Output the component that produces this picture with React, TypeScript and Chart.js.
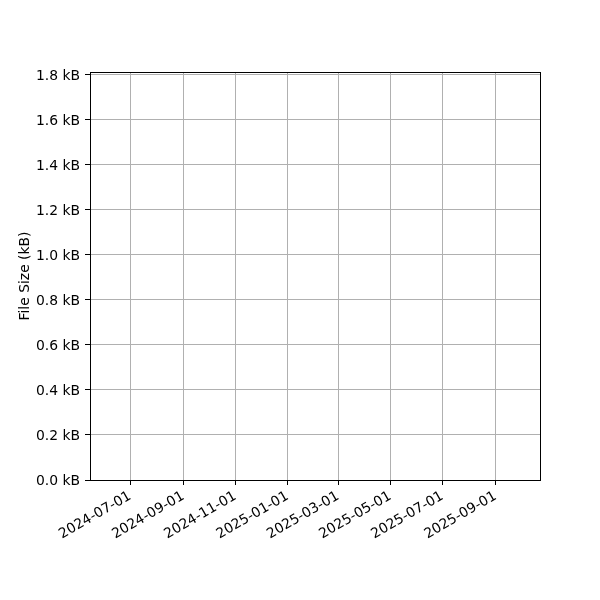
import React, { useEffect, useRef } from 'react';
import { Chart, registerables } from 'chart.js';

Chart.register(...registerables);

// Data: the reference chart has no points plotted, only the axes.
const sampleDates: string[] = [];
const fileSizeKB: number[] = [];

// Axis ticks
const xTickDates = [
    '2024-07-01', '2024-09-01', '2024-11-01', '2025-01-01',
    '2025-03-01', '2025-05-01', '2025-07-01', '2025-09-01',
];
const xRange = ['2024-05-15', '2025-10-23'];
const yTickValues = [0, 0.2, 0.4, 0.6, 0.8, 1.0, 1.2, 1.4, 1.6, 1.8];
const yMax = 1.813;

const FONT = { family: 'DejaVu Sans', size: 13.9 };
const GRID = '#b0b0b0';

const toMs = (d: string) => Date.parse(d + 'T00:00:00Z');
const fmtDate = (ms: number) => new Date(ms).toISOString().slice(0, 10);

// matplotlib draws a full frame around the axes
const framePlugin = {
    id: 'frame',
    afterDraw(chart: Chart) {
        const { ctx, chartArea } = chart;
        ctx.save();
        ctx.strokeStyle = '#000';
        ctx.lineWidth = 1;
        ctx.strokeRect(
            Math.round(chartArea.left) + 0.5,
            Math.round(chartArea.top) + 0.5,
            Math.round(chartArea.right - chartArea.left),
            Math.round(chartArea.bottom - chartArea.top)
        );
        ctx.restore();
    },
};

const App: React.FC = () => {
    const canvasRef = useRef<HTMLCanvasElement>(null);
    const chartRef = useRef<Chart | null>(null);

    useEffect(() => {
        document.body.style.margin = '0';
        if (!canvasRef.current) return;
        if (chartRef.current) chartRef.current.destroy();

        chartRef.current = new Chart(canvasRef.current, {
            type: 'line',
            data: {
                datasets: [
                    {
                        label: 'File Size',
                        data: sampleDates.map((d, i) => ({ x: toMs(d), y: fileSizeKB[i] })),
                        borderColor: '#1f77b4',
                        backgroundColor: '#1f77b4',
                        borderWidth: 1.5,
                        pointRadius: 0,
                    },
                ],
            },
            options: {
                responsive: false,
                animation: false,
                layout: { padding: { top: 72, right: 60, bottom: 0, left: 0 } },
                plugins: {
                    legend: { display: false },
                    tooltip: { enabled: false },
                },
                scales: {
                    x: {
                        type: 'linear',
                        min: toMs(xRange[0]),
                        max: toMs(xRange[1]),
                        afterBuildTicks: (axis: any) => {
                            axis.ticks = xTickDates.map((d) => ({ value: toMs(d) }));
                        },
                        afterFit: (axis: any) => {
                            axis.height = 120;
                        },
                        ticks: {
                            autoSkip: false,
                            minRotation: 30,
                            maxRotation: 30,
                            padding: 3,
                            color: '#000',
                            font: FONT,
                            callback: (v: any) => fmtDate(Number(v)),
                        },
                        grid: { color: GRID, lineWidth: 1, tickColor: '#000', tickLength: 5, tickWidth: 1 },
                        border: { color: '#000', width: 1 },
                    },
                    y: {
                        type: 'linear',
                        min: 0,
                        max: yMax,
                        afterBuildTicks: (axis: any) => {
                            axis.ticks = yTickValues.map((v) => ({ value: v }));
                        },
                        afterFit: (axis: any) => {
                            axis.width = 90;
                        },
                        ticks: {
                            padding: 5,
                            labelOffset: 1,
                            color: '#000',
                            font: FONT,
                            callback: (v: any) => Number(v).toFixed(1) + ' kB',
                        },
                        title: {
                            display: true,
                            text: 'File Size (kB)',
                            color: '#000',
                            font: FONT,
                            padding: { top: 17, bottom: 0 },
                        },
                        grid: { color: GRID, lineWidth: 1, tickColor: '#000', tickLength: 5, tickWidth: 1 },
                        border: { color: '#000', width: 1 },
                    },
                },
            },
            plugins: [framePlugin],
        });

        return () => {
            if (chartRef.current) {
                chartRef.current.destroy();
                chartRef.current = null;
            }
        };
    }, []);

    return (
        <div style={{ width: 600, height: 600, background: '#fff' }}>
            <canvas ref={canvasRef} width={600} height={600} />
        </div>
    );
};

export default App;
